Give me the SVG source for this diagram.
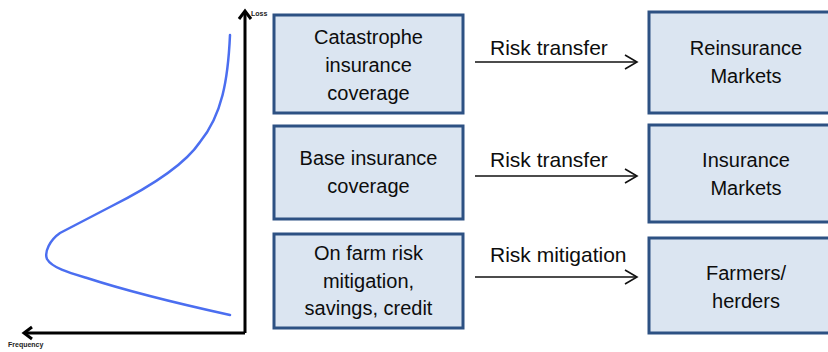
<svg xmlns="http://www.w3.org/2000/svg" width="828" height="352" viewBox="0 0 828 352">
<defs>
<style>
.box{fill:#dbe5f1;stroke:#2d5183;stroke-width:3}
.t{font-family:"Liberation Sans",Arial,sans-serif;font-size:20px;fill:#0d0d0d;text-anchor:middle}
.lbl{font-family:"Liberation Sans",Arial,sans-serif;font-size:21px;fill:#0d0d0d}
.conn{stroke:#111;stroke-width:1.6;fill:none}
.head{stroke:#111;stroke-width:1.6;fill:none;stroke-linejoin:miter}
.axis{stroke:#000;stroke-width:3;fill:none}
.ax{font-family:"Liberation Sans",Arial,sans-serif;font-size:7px;font-weight:bold;fill:#222}
</style>
</defs>
<rect width="828" height="352" fill="#fff"/>
<g id="chart">
<path class="axis" d="M245 333 V11"/>
<path class="axis" d="M239 19 L245 11 L251 19"/>
<path class="axis" d="M245 333 H24"/>
<path class="axis" d="M32 327 L24 333 L32 339"/>
<text class="ax" x="251" y="16">Loss</text>
<text class="ax" x="8" y="347">Frequency</text>
<path d="M230 35 C228 80 222 115 200 142 C188 160 158 183 110 207 L60 233 C50 240 44 252 47 259 C52 268 70 273 87 278 C130 292 180 304 230 315" fill="none" stroke="#4b6ef0" stroke-width="2.5" stroke-linecap="round" stroke-linejoin="round"/>
</g>
<g id="cat">
<rect class="box" x="274" y="15" width="189" height="98"/>
<text class="t" x="368.5" y="44">Catastrophe</text>
<text class="t" x="368.5" y="72">insurance</text>
<text class="t" x="368.5" y="100">coverage</text>
</g>
<g id="base">
<rect class="box" x="274" y="126" width="189" height="93"/>
<text class="t" x="368.5" y="165">Base insurance</text>
<text class="t" x="368.5" y="193">coverage</text>
</g>
<g id="onfarm">
<rect class="box" x="274" y="234" width="189" height="94"/>
<text class="t" x="368.5" y="260">On farm risk</text>
<text class="t" x="368.5" y="288">mitigation,</text>
<text class="t" x="368.5" y="315">savings, credit</text>
</g>
<g id="reins">
<rect class="box" x="649" y="12" width="196" height="101"/>
<text class="t" x="746" y="55">Reinsurance</text>
<text class="t" x="746" y="83">Markets</text>
</g>
<g id="ins">
<rect class="box" x="649" y="125" width="196" height="97"/>
<text class="t" x="746" y="167">Insurance</text>
<text class="t" x="746" y="195">Markets</text>
</g>
<g id="farmers">
<rect class="box" x="649" y="238" width="196" height="95"/>
<text class="t" x="746" y="280">Farmers/</text>
<text class="t" x="746" y="308">herders</text>
</g>
<g id="connectors">
<path class="conn" d="M475 62 H636"/>
<path class="head" d="M625 55 L637 62 L625 69"/>
<text class="lbl" x="490" y="55">Risk transfer</text>
<path class="conn" d="M475 176 H636"/>
<path class="head" d="M625 169 L637 176 L625 183"/>
<text class="lbl" x="490" y="167">Risk transfer</text>
<path class="conn" d="M475 277 H636"/>
<path class="head" d="M625 270 L637 277 L625 284"/>
<text class="lbl" x="490" y="262">Risk mitigation</text>
</g>
</svg>
